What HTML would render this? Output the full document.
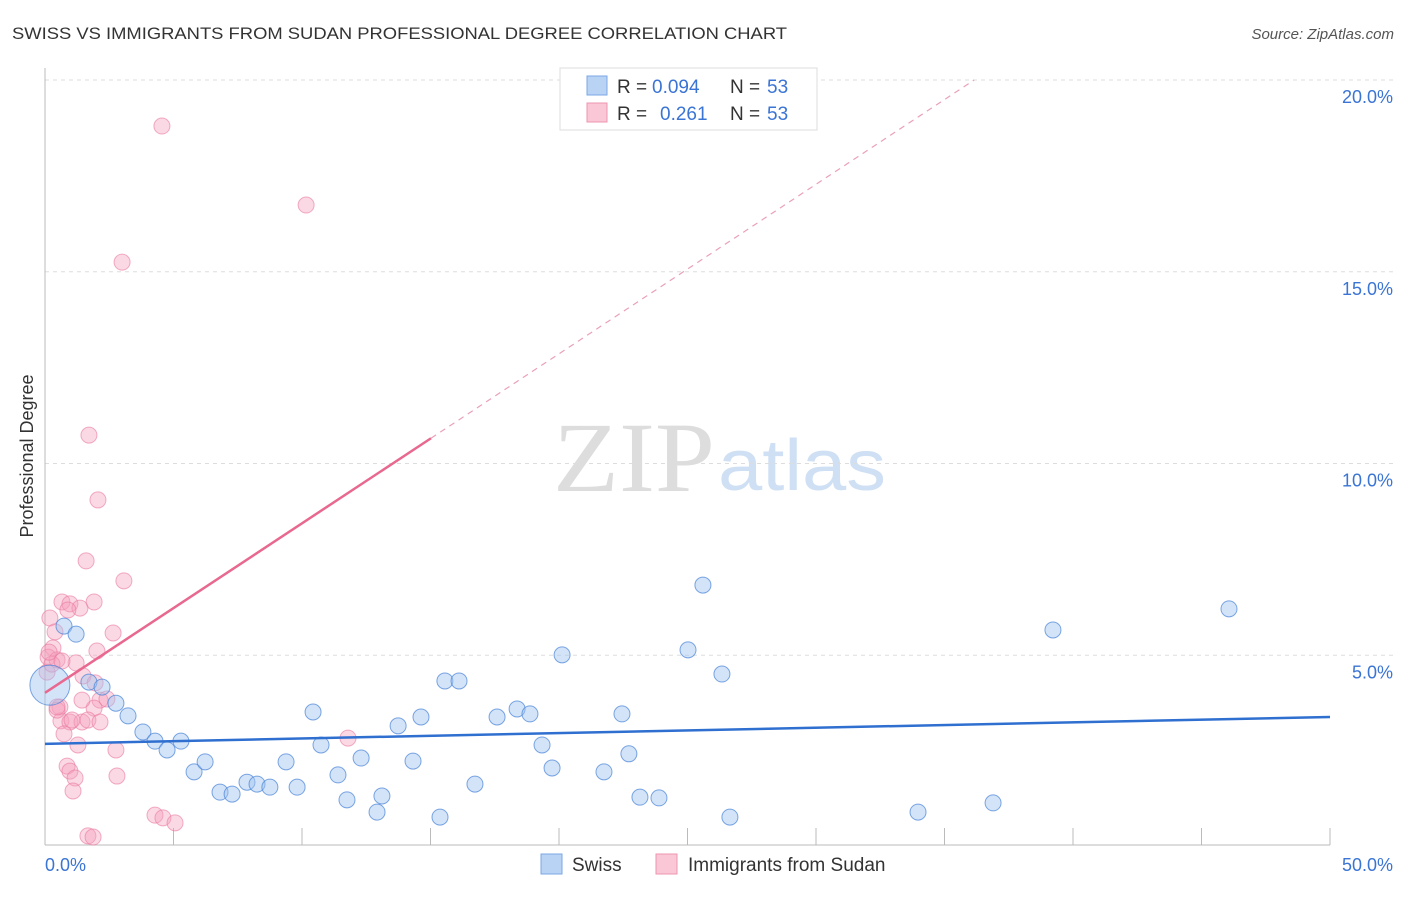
<!DOCTYPE html>
<html><head><meta charset="utf-8"><style>
body{margin:0;background:#fff;font-family:"Liberation Sans",sans-serif}
</style></head><body>
<svg id="chart" width="1406" height="892" xmlns="http://www.w3.org/2000/svg" font-family="Liberation Sans, sans-serif">
<text x="12" y="39" font-size="17" fill="#333" textLength="775" lengthAdjust="spacingAndGlyphs">SWISS VS IMMIGRANTS FROM SUDAN PROFESSIONAL DEGREE CORRELATION CHART</text>
<text x="1394" y="39" font-size="15" fill="#555" text-anchor="end" font-style="italic">Source: ZipAtlas.com</text>
<text x="33" y="456" font-size="18" fill="#333" transform="rotate(-90 33 456)" text-anchor="middle">Professional Degree</text>
<text x="553" y="491" font-size="100" fill="#ddd" style="font-family:'Liberation Serif',serif" textLength="162" lengthAdjust="spacingAndGlyphs">ZIP</text>
<text x="718" y="490" font-size="72" fill="#cfe0f4" textLength="168" lengthAdjust="spacingAndGlyphs">atlas</text>
<g id="grid"></g><g id="axes"></g><g id="pts"></g><g id="trends"></g>
<g>
<rect x="560" y="68" width="257" height="62" fill="#fff" stroke="#ddd"/>
<rect x="587" y="76" width="20" height="19" fill="#b9d3f5" stroke="#7aa7e6"/>
<rect x="587" y="103" width="20" height="19" fill="#f9c7d6" stroke="#ef94b1"/>
<text x="617" y="93" font-size="19" fill="#333">R = <tspan x="652" fill="#3a74d4">0.094</tspan><tspan x="730">N = </tspan><tspan x="767" fill="#3a74d4">53</tspan></text>
<text x="617" y="120" font-size="19" fill="#333">R = <tspan x="660" fill="#3a74d4">0.261</tspan><tspan x="730">N = </tspan><tspan x="767" fill="#3a74d4">53</tspan></text>
</g>
<g>
<rect x="541" y="854" width="21" height="20" fill="#b9d3f5" stroke="#7aa7e6"/>
<text x="572" y="871" font-size="19" fill="#333">Swiss</text>
<rect x="656" y="854" width="21" height="20" fill="#f9c7d6" stroke="#ef94b1"/>
<text x="688" y="871" font-size="19" fill="#333">Immigrants from Sudan</text>
</g>
</svg>
<script>
const yTicks=[5,10,15,20];
const xTickLabels=["0.0%","50.0%"];
const swissX=[0.74,1.21,1.71,2.22,2.76,3.23,3.81,4.28,4.75,5.29,5.80,6.23,6.81,7.28,7.86,8.25,8.75,9.38,9.81,10.43,10.74,11.40,11.75,12.30,13.11,12.92,13.74,14.32,14.63,15.37,15.56,16.11,16.73,17.59,18.37,18.87,19.34,19.73,20.12,21.75,22.45,22.72,23.15,23.89,25.02,25.60,26.34,26.65,33.97,36.89,39.22,46.07,0.19];
const swissY=[5.76,5.55,4.30,4.17,3.75,3.42,3.00,2.76,2.53,2.76,1.96,2.22,1.43,1.38,1.69,1.64,1.56,2.22,1.56,3.52,2.66,1.88,1.23,2.32,1.33,0.91,3.16,2.24,3.39,0.78,4.33,4.33,1.64,3.39,3.60,3.47,2.66,2.06,5.01,1.96,3.47,2.43,1.30,1.28,5.14,6.83,4.51,0.78,0.91,1.15,5.66,6.21,4.22];
const sudanX=[4.55,10.16,3.00,1.71,2.06,1.60,3.07,0.66,0.97,1.91,1.36,0.19,2.65,0.39,0.31,0.12,0.47,1.21,2.02,0.08,1.48,1.95,2.14,0.58,1.91,0.62,0.97,1.44,1.67,2.14,0.74,1.28,2.76,0.86,0.97,1.17,1.09,2.80,4.28,4.59,5.06,11.79,1.67,1.87,0.47,1.05,0.27,0.16,0.66,1.44,0.89,2.41,0.47];
const sudanY=[18.80,16.74,15.25,10.74,9.05,7.46,6.94,6.39,6.34,6.39,6.23,5.97,5.58,5.61,5.19,4.95,4.88,4.80,5.11,4.56,4.46,4.28,3.83,3.65,3.62,3.29,3.26,3.26,3.31,3.26,2.95,2.66,2.53,2.11,1.98,1.80,1.46,1.85,0.83,0.76,0.63,2.84,0.29,0.26,3.57,3.31,4.77,5.08,4.85,3.83,6.18,3.86,3.65];
const swissTrend=[2.69,3.39];
const sudanTrend=[4.02,0.442];
const NS="http://www.w3.org/2000/svg";
const X=v=>45+v/50*1285, Y=v=>847-v*38.35;
function mk(p,t,a){const e=document.createElementNS(NS,t);for(const k in a)e.setAttribute(k,a[k]);document.getElementById(p).appendChild(e);return e;}
yTicks.forEach(t=>{
 const l=mk('grid','line',{x1:45,x2:1395,y1:Y(t),y2:Y(t),stroke:'#ddd','stroke-dasharray':'4,4'});
 
 
 const tx=mk('grid','text',{x:1393,y:Y(t)+23,'font-size':18,fill:'#3a74d4','text-anchor':'end'});
 tx.textContent=t.toFixed(1)+'%';
 
 
});
mk('axes','line',{x1:45,x2:45,y1:68,y2:845,stroke:'#bbb'});
mk('axes','line',{x1:45,x2:1330,y1:845,y2:845,stroke:'#bbb'});
for(let i=1;i<=10;i++){const t=mk('axes','line',{x1:X(i*5),x2:X(i*5),y1:828,y2:845,stroke:'#bbb'});
 
 }
[[0,'start',45],[50,'end',1393]].forEach((d,i)=>{const t=mk('axes','text',{x:d[2],y:871,'font-size':18,fill:'#3a74d4','text-anchor':d[1]});t.textContent=xTickLabels[i];
 
 });
sudanX.forEach((x,i)=>{const c=mk('pts','circle',{cx:X(x),cy:Y(sudanY[i]),r:8,fill:'rgba(246,160,188,0.4)',stroke:'rgba(234,120,160,0.6)'});
 
 });
swissX.forEach((x,i)=>{const c=mk('pts','circle',{cx:X(x),cy:Y(swissY[i]),r:i==swissX.length-1?20:8,fill:'rgba(160,196,240,0.45)',stroke:'rgba(70,130,215,0.7)'});
 
 });
const s=mk('trends','line',{x1:X(0),x2:X(50),y1:Y(swissTrend[0]),y2:Y(swissTrend[1]),stroke:'#2f6fd0','stroke-width':2.5});


const xe=15.02, xd=(20.0-sudanTrend[0])/sudanTrend[1];
const p=mk('trends','line',{x1:X(0),x2:X(xe),y1:Y(sudanTrend[0]),y2:Y(sudanTrend[0]+sudanTrend[1]*xe),stroke:'#e8688f','stroke-width':2.5});


const d=mk('trends','line',{x1:X(xe),x2:X(xd),y1:Y(sudanTrend[0]+sudanTrend[1]*xe),y2:Y(20.0),stroke:'#eaa0b8','stroke-width':1.2,'stroke-dasharray':'6,5'});


</script>
</body></html>
